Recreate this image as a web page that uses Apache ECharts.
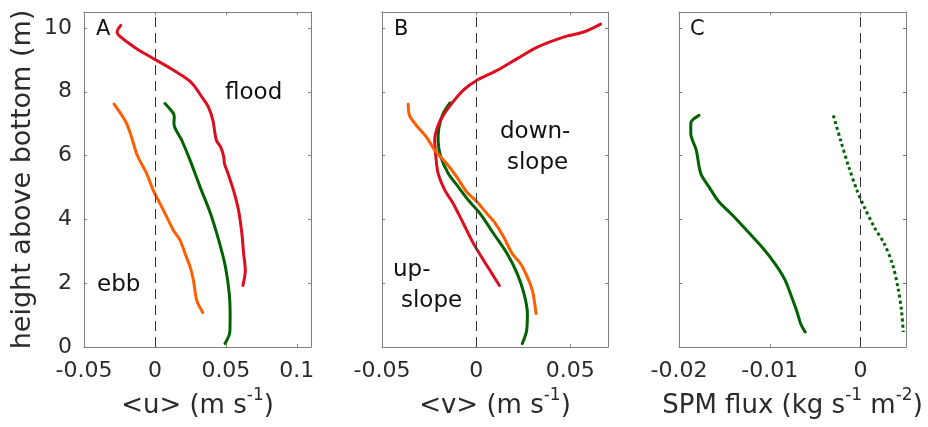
<!DOCTYPE html>
<html>
<head>
<meta charset="utf-8">
<script src="https://cdn.jsdelivr.net/npm/echarts@6/dist/echarts.min.js"></script>
<style>
  html, body { margin: 0; padding: 0; background: #ffffff; }
  #chart { width: 928px; height: 427px; }
</style>
</head>
<body>
<div id="chart"></div>
<script>
// ---- Vertical profiles (height above bottom in m) ----

// Panel A: along-channel velocity <u> (m/s)
const uFloodHeight = [10.08, 9.87, 9.77, 9.56, 9.35, 9.09, 8.73, 8.31, 7.84, 7.52, 7.11, 6.48, 6.27, 5.96, 5.75, 5.44, 4.91, 4.29, 3.55, 2.93, 2.40, 1.93];
const uFlood       = [-0.0241, -0.0267, -0.0255, -0.0196, -0.0129, -0.0030, 0.0111, 0.0252, 0.0330, 0.0377, 0.0408, 0.0433, 0.0463, 0.0485, 0.0490, 0.0515, 0.0554, 0.0589, 0.0613, 0.0625, 0.0637, 0.0620];

const uEbbHeight = [7.61, 7.05, 6.58, 6.01, 5.44, 4.91, 4.50, 4.08, 3.66, 3.35, 2.93, 2.51, 2.09, 1.46, 1.08];
const uEbb       = [-0.0288, -0.0205, -0.0165, -0.0125, -0.0059, -0.0012, 0.0035, 0.0083, 0.0130, 0.0177, 0.0212, 0.0248, 0.0271, 0.0295, 0.0337];

const uMeanHeight = [7.63, 7.32, 7.20, 7.00, 6.48, 5.85, 5.02, 4.18, 3.34, 2.51, 1.67, 1.05, 0.47, 0.11];
const uMean       = [0.0071, 0.0130, 0.0136, 0.0134, 0.0189, 0.0248, 0.0318, 0.0392, 0.0450, 0.0497, 0.0524, 0.0530, 0.0528, 0.0494];

// Panel B: cross-channel velocity <v> (m/s)
const vFloodHeight = [10.12, 9.88, 9.72, 9.40, 9.04, 8.67, 8.36, 8.05, 7.63, 7.26, 6.90, 6.48, 5.96, 5.44, 4.91, 4.50, 3.87, 3.24, 2.72, 2.30, 1.93];
const vFlood       = [0.0661, 0.0575, 0.0468, 0.0325, 0.0218, 0.0111, 0.0004, -0.0068, -0.0130, -0.0175, -0.0205, -0.0220, -0.0214, -0.0202, -0.0166, -0.0122, -0.0068, -0.0014, 0.0039, 0.0084, 0.0123];

const vEbbHeight = [7.61, 7.26, 6.95, 6.58, 6.17, 5.75, 5.33, 4.86, 4.55, 4.18, 3.87, 3.45, 2.93, 2.61, 2.19, 1.78, 1.36, 1.05];
const vEbb       = [-0.0361, -0.0354, -0.0318, -0.0264, -0.0220, -0.0157, -0.0103, -0.0050, 0.0004, 0.0057, 0.0102, 0.0146, 0.0191, 0.0236, 0.0272, 0.0298, 0.0311, 0.0318];

const vMeanHeight = [7.65, 7.32, 6.90, 6.48, 5.96, 5.44, 5.02, 4.60, 4.18, 3.55, 2.93, 2.30, 1.67, 1.05, 0.52, 0.11];
const vMean       = [-0.0139, -0.0175, -0.0197, -0.0202, -0.0188, -0.0148, -0.0095, -0.0041, 0.0021, 0.0093, 0.0164, 0.0218, 0.0254, 0.0272, 0.0268, 0.0245];

// Panel C: SPM flux (kg s^-1 m^-2)
const fluxSolidHeight = [7.26, 7.02, 6.69, 6.17, 5.44, 5.02, 4.55, 4.13, 3.61, 3.08, 2.56, 2.09, 1.57, 1.10, 0.73, 0.47];
const fluxSolid       = [-0.0178, -0.0187, -0.0187, -0.0181, -0.0176, -0.0167, -0.0156, -0.0141, -0.0124, -0.0107, -0.0093, -0.0083, -0.0076, -0.0070, -0.0066, -0.0061];

const fluxDottedHeight = [7.26, 6.48, 5.64, 4.91, 4.39, 3.76, 3.24, 2.61, 1.88, 1.15, 0.47];
const fluxDotted       = [-0.0030, -0.0022, -0.0013, -0.0004, 0.0004, 0.0015, 0.0026, 0.0035, 0.0041, 0.0045, 0.0047];

// Tick values
const heightTicks = [0, 2, 4, 6, 8, 10];
const uTicks = [-0.05, 0, 0.05, 0.1];
const vTicks = [-0.05, 0, 0.05];
const fluxTicks = [-0.02, -0.01, 0];

// ---- Styling ----
const FONT = 'DejaVu Sans';
const AXIS_COLOR = '#7f7f7f';
const TEXT_COLOR = '#2b2b2b';
const RED = '#dc0d1f';
const ORANGE = '#ff5e00';
const GREEN = '#006200';

const panels = [
  { left: 84,  width: 227, xMin: -0.05, xMax: 0.11,  ticks: uTicks,    name: '<u> (m s{sup|-1})' },
  { left: 382, width: 226, xMin: -0.05, xMax: 0.07,  ticks: vTicks,    name: '<v> (m s{sup|-1})' },
  { left: 679, width: 227, xMin: -0.02, xMax: 0.005, ticks: fluxTicks, name: 'SPM flux (kg s{sup|-1} m{sup|-2})' }
];
const GRID_TOP = 12;
const GRID_HEIGHT = 335;

const zip = (xs, ys) => xs.map((x, i) => [x, ys[i]]);
const fmt = v => (Math.abs(v) < 1e-12 ? '0' : String(parseFloat(v.toFixed(4))));

const grid = [], xAxis = [], yAxis = [];
panels.forEach((p, i) => {
  grid.push({
    left: p.left, top: GRID_TOP, width: p.width, height: GRID_HEIGHT,
    containLabel: false, outerBoundsMode: 'none'
  });
  // bottom axis with labels and title (tall line box lifts the top-aligned exponents)
  xAxis.push({
    type: 'value', gridIndex: i, position: 'bottom', min: p.xMin, max: p.xMax,
    axisLine: { show: true, onZero: false, lineStyle: { color: AXIS_COLOR, width: 1 } },
    axisTick: { show: true, inside: true, length: 3, customValues: p.ticks, lineStyle: { color: AXIS_COLOR } },
    axisLabel: { show: true, customValues: p.ticks, formatter: fmt, margin: 13, color: TEXT_COLOR, fontFamily: FONT, fontSize: 22 },
    splitLine: { show: false },
    name: p.name, nameLocation: 'middle', nameGap: 40, nameMoveOverlap: false,
    nameTextStyle: {
      color: TEXT_COLOR, fontFamily: FONT, fontSize: 26, lineHeight: 38,
      rich: { sup: { fontFamily: FONT, fontSize: 17, color: TEXT_COLOR, verticalAlign: 'top', lineHeight: 17 } }
    }
  });
  // top axis: box edge with inward ticks
  xAxis.push({
    type: 'value', gridIndex: i, position: 'top', min: p.xMin, max: p.xMax,
    axisLine: { show: true, onZero: false, lineStyle: { color: AXIS_COLOR, width: 1 } },
    axisTick: { show: true, inside: true, length: 3, customValues: p.ticks, lineStyle: { color: AXIS_COLOR } },
    axisLabel: { show: false }, splitLine: { show: false }
  });
  // left axis
  yAxis.push({
    type: 'value', gridIndex: i, position: 'left', min: 0, max: 10.5,
    axisLine: { show: true, onZero: false, lineStyle: { color: AXIS_COLOR, width: 1 } },
    axisTick: { show: true, inside: true, length: 3, customValues: heightTicks, lineStyle: { color: AXIS_COLOR } },
    axisLabel: { show: i === 0, customValues: heightTicks, margin: 12, color: TEXT_COLOR, fontFamily: FONT, fontSize: 22 },
    splitLine: { show: false },
    name: i === 0 ? 'height above bottom (m)' : '', nameLocation: 'middle', nameGap: 48, nameMoveOverlap: false,
    nameTextStyle: { color: TEXT_COLOR, fontFamily: FONT, fontSize: 27 }
  });
  // right axis: box edge with inward ticks
  yAxis.push({
    type: 'value', gridIndex: i, position: 'right', min: 0, max: 10.5,
    axisLine: { show: true, onZero: false, lineStyle: { color: AXIS_COLOR, width: 1 } },
    axisTick: { show: true, inside: true, length: 3, customValues: heightTicks, lineStyle: { color: AXIS_COLOR } },
    axisLabel: { show: false }, splitLine: { show: false }
  });
});

// dashed zero reference line in each panel
const zeroLine = {
  silent: true, symbol: ['none', 'none'], animation: false,
  label: { show: false },
  lineStyle: { color: '#3a3a3a', width: 1, type: [10, 6] },
  emphasis: { disabled: true },
  data: [{ xAxis: 0 }]
};

const profile = (name, panel, xs, hs, color, extra) => Object.assign({
  name, type: 'line', xAxisIndex: panel * 2, yAxisIndex: panel * 2,
  data: zip(xs, hs), showSymbol: false, symbol: 'none', smooth: 0.3,
  lineStyle: { color, width: 3, cap: 'round', join: 'round' },
  emphasis: { disabled: true }, animation: false, z: 3
}, extra || {});

const series = [
  profile('mean', 0, uMean, uMeanHeight, GREEN, { markLine: zeroLine }),
  profile('flood', 0, uFlood, uFloodHeight, RED),
  profile('ebb', 0, uEbb, uEbbHeight, ORANGE),

  profile('mean', 1, vMean, vMeanHeight, GREEN, { markLine: zeroLine }),
  profile('flood', 1, vFlood, vFloodHeight, RED),
  profile('ebb', 1, vEbb, vEbbHeight, ORANGE),

  profile('flux', 2, fluxSolid, fluxSolidHeight, GREEN, { markLine: zeroLine }),
  profile('flux (dotted)', 2, fluxDotted, fluxDottedHeight, GREEN, {
    lineStyle: { color: GREEN, width: 3, type: [3, 3], cap: 'butt' }
  })
];

// panel letters and annotations
const txt = (text, x, y, size) => ({
  type: 'text', x, y, silent: true,
  style: { text, fill: '#111111', font: size + 'px "' + FONT + '"', textAlign: 'left', textVerticalAlign: 'middle' }
});
const graphic = [
  txt('A', 96, 30, 21),
  txt('B', 394, 30, 21),
  txt('C', 690, 30, 21),
  txt('flood', 225, 93, 23),
  txt('ebb', 97, 285, 23),
  txt('down-', 500, 132, 23),
  txt('slope', 507, 163, 23),
  txt('up-', 393, 270, 23),
  txt('slope', 401, 301, 23)
];

const chart = echarts.init(document.getElementById('chart'), null, { renderer: 'canvas' });
chart.setOption({
  animation: false,
  backgroundColor: '#ffffff',
  grid, xAxis, yAxis, series, graphic
});
</script>
</body>
</html>
